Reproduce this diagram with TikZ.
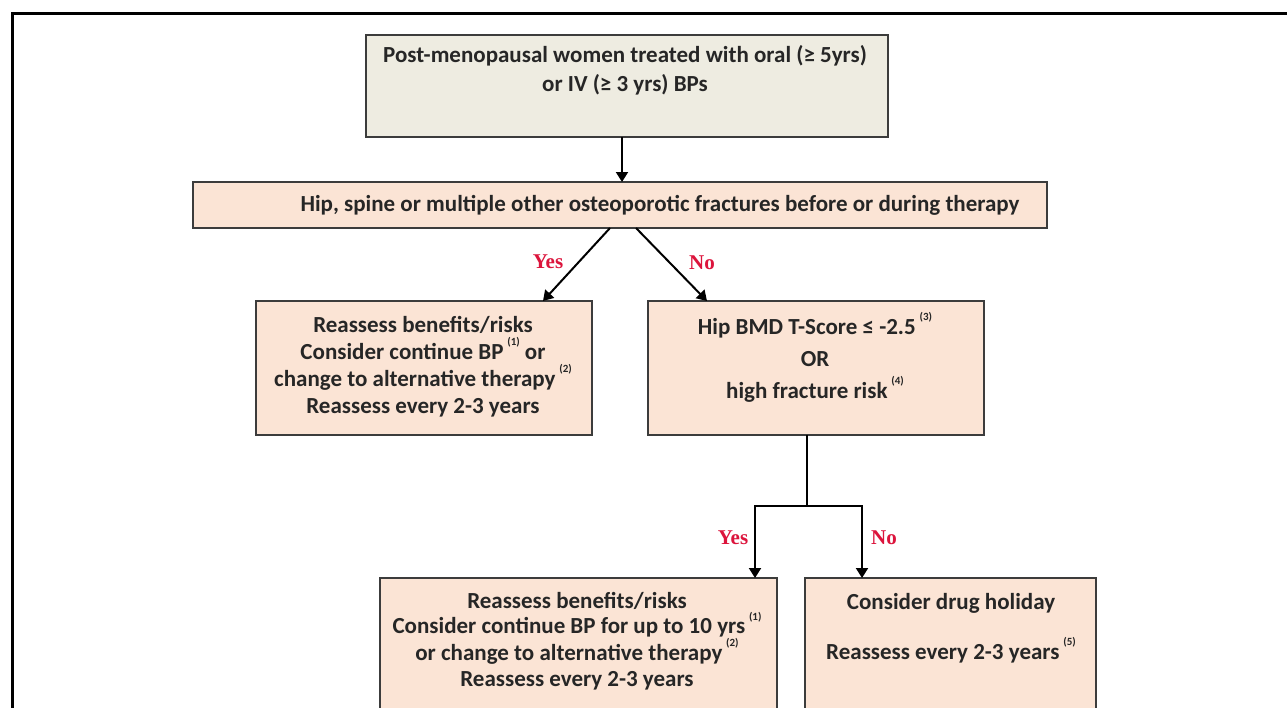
\documentclass[tikz,border=0pt]{standalone}
\usepackage{fontspec}
\setmainfont{Carlito}
\newfontfamily\lblfont{Liberation Serif}
\usetikzlibrary{arrows.meta}
\definecolor{peach}{HTML}{FBE4D5}
\definecolor{tanbg}{HTML}{EEECE1}
\definecolor{bord}{HTML}{3C3C3C}
\definecolor{yn}{HTML}{DC143C}
\newcommand\fnref[1]{\,\raisebox{0.6em}{\fontsize{11}{11}\selectfont(#1)}}
\begin{document}
\begin{tikzpicture}[x=1pt,y=-1pt,
  box/.style={draw=bord, line width=2.4pt, rectangle, inner sep=0pt, outer sep=0pt, anchor=north west},
  txt/.style={align=center, inner sep=0pt, text=black!85},
  lbl/.style={font=\lblfont\bfseries\fontsize{21}{21}\selectfont, text=yn, inner sep=0pt},
  conn/.style={line width=2pt, draw=black},
  arr/.style={conn, -{Triangle[length=10pt,width=12pt]}},
]
\clip (0,0) rectangle (1287,707);
\fill[white] (0,0) rectangle (1287,707);
\draw[line width=3pt] (12,720) -- (12,13) -- (1300,13);

% boxes
\node[box, fill=tanbg, minimum width=522, minimum height=102] (b1) at (366,35) {};
\node[box, fill=peach, minimum width=854, minimum height=46] (b2) at (193,182) {};
\node[box, fill=peach, minimum width=336, minimum height=134] (b3) at (256,301) {};
\node[box, fill=peach, minimum width=336, minimum height=134] (b4) at (648,301) {};
\node[box, fill=peach, minimum width=397, minimum height=160] (b5) at (380,578) {};
\node[box, fill=peach, minimum width=291, minimum height=160] (b6) at (805,578) {};

% texts
\node[txt, font=\bfseries\fontsize{23}{29}\selectfont] (t1) at (625,70)
  {Post-menopausal women treated with oral (≥ 5yrs)\\or IV (≥ 3 yrs) BPs};
\node[txt, font=\bfseries\fontsize{23}{27}\selectfont] (t2) at (660,205)
  {Hip, spine or multiple other osteoporotic fractures before or during therapy};
\node[txt, font=\bfseries\fontsize{23}{27}\selectfont] (t3) at (423,367)
  {Reassess benefits/risks\\Consider continue BP\fnref{1} or\\change to alternative therapy\fnref{2}\\Reassess every 2-3 years};
\node[txt, font=\bfseries\fontsize{23}{32}\selectfont] (t4) at (815,357)
  {Hip BMD T-Score ≤ -2.5\fnref{3}\\OR\\high fracture risk\fnref{4}};
\node[txt, font=\bfseries\fontsize{23}{25.5}\selectfont] (t5) at (577,641)
  {Reassess benefits/risks\\Consider continue BP for up to 10 yrs\fnref{1}\\or change to alternative therapy\fnref{2}\\Reassess every 2-3 years};
\node[txt, font=\bfseries\fontsize{23}{50}\selectfont] (t6) at (951,628)
  {Consider drug holiday\\Reassess every 2-3 years\fnref{5}};

% connectors
\coordinate (a1) at (622,0);
\draw[arr] (a1 |- b1.south) -- (a1 |- b2.north);
\coordinate (y1s) at (610,0);
\coordinate (y1e) at (543,0);
\coordinate (n1s) at (636,0);
\coordinate (n1e) at (707,0);
\draw[arr] (y1s |- b2.south) -- (y1e |- b3.north);
\draw[arr] (n1s |- b2.south) -- (n1e |- b4.north);

\coordinate (j) at (807,506);
\coordinate (jl) at (755,506);
\coordinate (jr) at (862,506);
\draw[conn] (j |- b4.south) -- (j);
\draw[arr] (j) -- (jl) -- (jl |- b5.north);
\draw[arr] (j) -- (jr) -- (jr |- b6.north);

% labels
\node[lbl] (l1) at (548,262) {Yes};
\node[lbl] (l2) at (702,263) {No};
\node[lbl] (l3) at (733,538) {Yes};
\node[lbl] (l4) at (884,538) {No};
\end{tikzpicture}
\end{document}
